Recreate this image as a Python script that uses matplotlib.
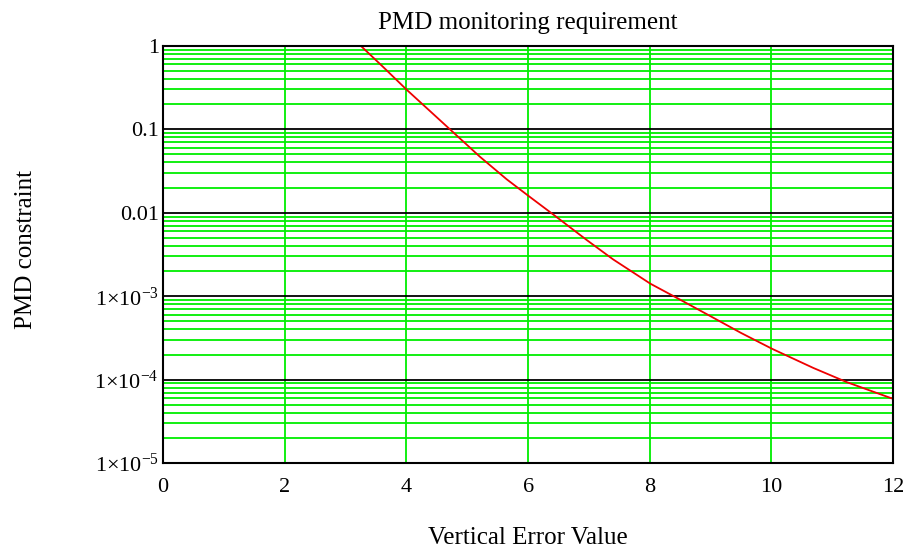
import numpy as np
import matplotlib
matplotlib.use('Agg')
import matplotlib.pyplot as plt

# точки кривой (log10 значения PMD)
error_values = [3.25, 3.62, 4.01, 4.34, 4.73, 5.21, 5.65, 6.01, 6.43, 6.97, 7.40,
                8.01, 8.47, 9.0, 9.5, 10.01, 10.69, 11.24, 12.0]
log_pmd = [0.0, -0.255, -0.53, -0.75, -1.01, -1.33, -1.6, -1.8, -2.03, -2.33, -2.56,
           -2.85, -3.03, -3.24, -3.44, -3.63, -3.86, -4.03, -4.23]
pmd_values = [10 ** v for v in log_pmd]

x_ticks = [0, 2, 4, 6, 8, 10, 12]
y_ticks = [1e-5, 1e-4, 1e-3, 1e-2, 1e-1, 1]
y_tick_labels = [r'$1{\times}10^{-5}$', r'$1{\times}10^{-4}$', r'$1{\times}10^{-3}$', '0.01', '0.1', '1']

plt.rcParams['font.family'] = ['Liberation Serif', 'DejaVu Serif']
plt.rcParams['mathtext.fontset'] = 'custom'
plt.rcParams['mathtext.rm'] = 'Liberation Serif'
plt.rcParams['mathtext.it'] = 'Liberation Serif:italic'

fig = plt.figure(figsize=(9.16, 5.52), dpi=100)
ax = fig.add_axes([0.178, 0.161, 0.797, 0.756])

ax.set_yscale('log')
ax.set_xlim(0, 12)
ax.set_ylim(1e-5, 1)

# зелёная сетка: вертикали и промежуточные горизонтали, декады - чёрные
for xv in x_ticks[1:-1]:
    ax.axvline(xv, color='#00ee00', lw=1.3, zorder=1)
for dec in range(-5, 0):
    for m in range(2, 10):
        ax.axhline(m * 10.0 ** dec, color='#00ee00', lw=1.3, zorder=1)
for yv in y_ticks[1:-1]:
    ax.axhline(yv, color='black', lw=1.3, zorder=2)

ax.plot(error_values, pmd_values, color='#ee0000', lw=1.3, zorder=3)

ax.set_xticks(x_ticks)
ax.set_xticklabels([str(v) for v in x_ticks])
ax.set_yticks(y_ticks)
ax.set_yticklabels(y_tick_labels)
ax.minorticks_off()
ax.tick_params(length=0, labelsize=16)
ax.tick_params(axis='y', pad=3)
ax.tick_params(axis='x', pad=11)

for sp in ax.spines.values():
    sp.set_linewidth(1.5)
    sp.set_zorder(4)

ax.set_title('PMD monitoring requirement', fontsize=18, y=1.054, va='center', pad=0)
ax.set_xlabel('Vertical Error Value', fontsize=18)
ax.xaxis.set_label_coords(0.5, -0.18)
ax.xaxis.label.set_va('center')
ax.set_ylabel('PMD constraint', fontsize=18)
ax.yaxis.set_label_coords(-0.188, 0.513)
ax.yaxis.label.set_va('center')

fig.savefig('out.png', dpi=100)
